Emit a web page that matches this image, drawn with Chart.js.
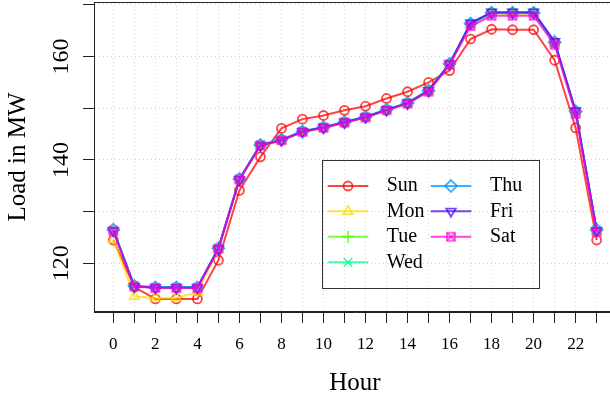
<!DOCTYPE html>
<html>
<head>
<meta charset="utf-8">
<script src="https://cdn.jsdelivr.net/npm/chart.js@4.4.1/dist/chart.umd.min.js"></script>
<style>
  html, body { margin: 0; padding: 0; background: #fff; }
  #wrap { width: 610px; height: 405px; overflow: hidden; }
</style>
</head>
<body>
<div id="wrap"><canvas id="chart" width="616" height="405" style="width:616px;height:405px"></canvas></div>
<script>
const hours = [0, 1, 2, 3, 4, 5, 6, 7, 8, 9, 10, 11, 12, 13, 14, 15, 16, 17, 18, 19, 20, 21, 22, 23];
const days = ['Sun', 'Mon', 'Tue', 'Wed', 'Thu', 'Fri', 'Sat'];

const sun = [124.5, 115.4, 113.1, 113.1, 113.1, 120.6, 134.1, 140.6, 146.1, 147.9, 148.6, 149.6,
  150.4, 151.9, 153.2, 155.0, 157.3, 163.4, 165.3, 165.2, 165.2, 159.3, 146.2, 124.5];
const mon = [124.6, 113.6, 113.3, 113.3, 114.4, 122.7, 136.1, 142.7, 143.7, 145.4, 146.2, 147.2,
  148.2, 149.6, 150.9, 153.3, 158.5, 166.2, 168.3, 168.3, 168.3, 162.6, 149.2, 126.3];
const tue = [126.4, 115.6, 115.3, 115.3, 115.3, 122.9, 136.3, 142.9, 143.9, 145.5, 146.3, 147.3,
  148.3, 149.7, 151.0, 153.4, 158.6, 166.3, 168.4, 168.4, 168.4, 162.7, 149.3, 126.4];
const wed = [126.5, 115.7, 115.4, 115.4, 115.4, 123.0, 136.4, 143.0, 143.9, 145.6, 146.4, 147.4,
  148.4, 149.8, 151.1, 153.5, 158.7, 166.4, 168.5, 168.5, 168.5, 162.8, 149.4, 126.5];
const thu = [126.5, 115.6, 115.3, 115.3, 115.3, 122.9, 136.3, 142.9, 143.9, 145.5, 146.3, 147.3,
  148.3, 149.7, 151.0, 153.4, 158.6, 166.4, 168.5, 168.5, 168.5, 162.8, 149.4, 126.5];
const fri = [126.3, 115.5, 115.3, 115.3, 115.3, 122.8, 136.2, 142.8, 143.8, 145.5, 146.3, 147.3,
  148.3, 149.7, 151.0, 153.4, 158.6, 166.5, 168.6, 168.6, 168.6, 162.9, 149.5, 126.3];
const sat = [126.2, 115.5, 115.2, 115.2, 115.2, 122.8, 136.2, 142.8, 143.8, 145.4, 146.2, 147.2,
  148.2, 149.6, 150.9, 153.2, 158.4, 165.9, 167.9, 167.9, 167.9, 162.3, 148.9, 126.1];
const series = [sun, mon, tue, wed, thu, fri, sat];

const yTicks = [120, 130, 140, 150, 160, 170];
const yTickLabels = [120, 140, 160];
const xTickLabels = [0, 2, 4, 6, 8, 10, 12, 14, 16, 18, 20, 22];

// rainbow(7) with some transparency
const colors = [
  'rgba(255,0,0,0.74)', 'rgba(255,219,0,0.74)', 'rgba(73,255,0,0.74)', 'rgba(0,255,146,0.74)',
  'rgba(0,146,255,0.74)', 'rgba(73,0,255,0.74)', 'rgba(255,0,219,0.74)'
];

function boxedCross(color) {
  const c = document.createElement('canvas');
  c.width = 12; c.height = 12;
  const g = c.getContext('2d');
  g.strokeStyle = color;
  g.lineWidth = 1.6;
  g.strokeRect(2, 2, 8, 8);
  g.beginPath();
  g.moveTo(2, 2); g.lineTo(10, 10);
  g.moveTo(10, 2); g.lineTo(2, 10);
  g.stroke();
  return c;
}

const markers = [
  { pointStyle: 'circle', radius: 4.5, rotation: 0 },
  { pointStyle: 'triangle', radius: 5.5, rotation: 0 },
  { pointStyle: 'cross', radius: 6, rotation: 0 },
  { pointStyle: 'crossRot', radius: 6, rotation: 0 },
  { pointStyle: 'rectRot', radius: 6, rotation: 0 },
  { pointStyle: 'triangle', radius: 5.5, rotation: 180 },
  { pointStyle: boxedCross(colors[6]), radius: 5, rotation: 0 }
];

const datasets = days.map((day, i) => ({
  label: day,
  data: hours.map((h, j) => ({ x: h, y: series[i][j] })),
  borderColor: colors[i],
  borderWidth: 2,
  pointStyle: markers[i].pointStyle,
  pointRadius: markers[i].radius,
  pointRotation: markers[i].rotation,
  pointBorderColor: colors[i],
  pointBackgroundColor: 'rgba(0,0,0,0)',
  pointBorderWidth: 1.8,
  tension: 0,
  order: days.length - i
}));

// box legend in two columns, like the base-graphics one
const legendBox = { left: 322.5, top: 160.5, right: 539.5, bottom: 288.5 };
const legendRows = [186, 211.3, 236.7, 262.3];
const legendCols = [{ x1: 327.7, x2: 368.3, text: 386.7 }, { x1: 430.7, x2: 471.3, text: 490 }];

const framePlugin = {
  id: 'frame',
  afterDraw(chart) {
    const { ctx, chartArea } = chart;
    ctx.save();
    ctx.strokeStyle = '#222';
    ctx.lineWidth = 1;
    ctx.strokeRect(chartArea.left + 0.5, chartArea.top + 0.5,
      chartArea.right - chartArea.left - 1, chartArea.bottom - chartArea.top - 1);

    ctx.strokeStyle = '#333';
    ctx.strokeRect(legendBox.left, legendBox.top,
      legendBox.right - legendBox.left, legendBox.bottom - legendBox.top);

    days.forEach((day, i) => {
      const col = legendCols[i < 4 ? 0 : 1];
      const y = legendRows[i < 4 ? i : i - 4];
      ctx.strokeStyle = colors[i];
      ctx.lineWidth = 2;
      ctx.beginPath();
      ctx.moveTo(col.x1, y);
      ctx.lineTo(col.x2, y);
      ctx.stroke();
      ctx.fillStyle = 'rgba(0,0,0,0)';
      ctx.lineWidth = 1.8;
      Chart.helpers.drawPoint(ctx, {
        pointStyle: markers[i].pointStyle,
        rotation: markers[i].rotation,
        radius: markers[i].radius,
        borderWidth: 1.8
      }, (col.x1 + col.x2) / 2, y);
      ctx.fillStyle = '#000';
      ctx.font = '20px "Liberation Serif"';
      ctx.textAlign = 'left';
      ctx.textBaseline = 'middle';
      ctx.fillText(day, col.text, y);
    });
    ctx.restore();
  }
};

Chart.defaults.font.family = '"Liberation Serif", "DejaVu Serif", serif';
Chart.defaults.color = '#000';

new Chart(document.getElementById('chart'), {
  type: 'line',
  data: { datasets },
  options: {
    responsive: false,
    animation: false,
    events: [],
    layout: { autoPadding: false, padding: { top: 2, left: 0, right: 0, bottom: 0 } },
    plugins: {
      legend: { display: false },
      tooltip: { enabled: false }
    },
    scales: {
      x: {
        type: 'linear',
        min: -0.92,
        max: 23.92,
        afterBuildTicks: (s) => { s.ticks = hours.map(v => ({ value: v })); },
        afterFit: (s) => { s.height = 93; s.paddingLeft = 0; s.paddingRight = 0; },
        ticks: {
          autoSkip: false,
          maxRotation: 0,
          padding: 11.5,
          font: { size: 17 },
          callback: (v) => xTickLabels.includes(v) ? String(v) : ''
        },
        grid: { color: '#d2d2d2', lineWidth: 1, tickLength: 11, tickColor: '#222', tickWidth: 1, tickBorderDash: [] },
        border: { color: '#222', width: 1, dash: [1, 3] },
        title: { display: true, text: 'Hour', font: { size: 25 }, padding: { top: 0, bottom: 7 } }
      },
      y: {
        min: 110.57,
        max: 170.57,
        afterBuildTicks: (s) => { s.ticks = yTicks.map(v => ({ value: v })); },
        afterFit: (s) => { s.width = 94; s.paddingTop = 0; s.paddingBottom = 0; },
        ticks: {
          minRotation: 90,
          maxRotation: 90,
          crossAlign: 'center',
          padding: 3.5,
          font: { size: 24 },
          callback: (v) => yTickLabels.includes(v) ? String(v) : ''
        },
        grid: { color: '#d2d2d2', lineWidth: 1, tickLength: 11, tickColor: '#222', tickWidth: 1, tickBorderDash: [] },
        border: { color: '#222', width: 1, dash: [1, 3] },
        title: { display: true, text: 'Load in MW', font: { size: 25 }, padding: { top: 3, bottom: 0 } }
      }
    }
  },
  plugins: [framePlugin]
});
</script>
</body>
</html>
